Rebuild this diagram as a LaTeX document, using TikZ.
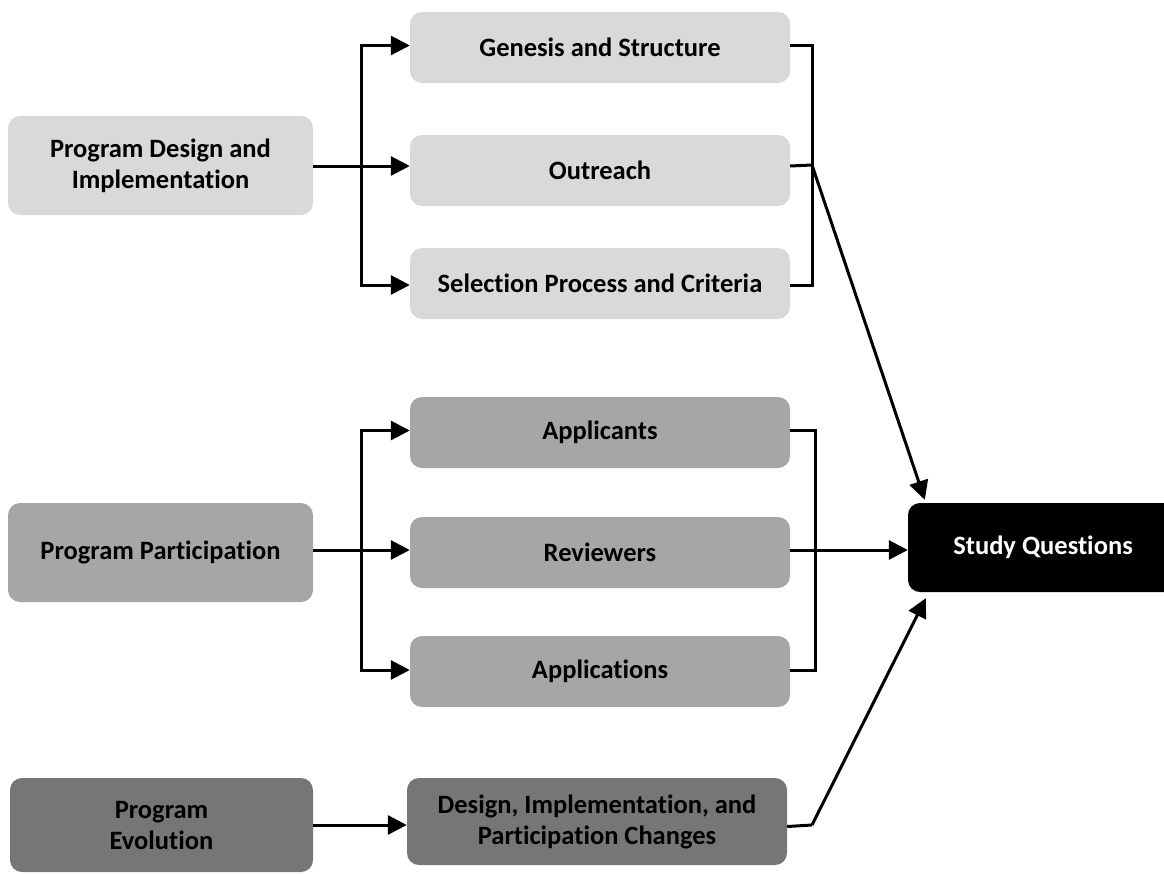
\documentclass[tikz,border=0pt]{standalone}
\usepackage{fontspec}
\setmainfont{Carlito}[Ligatures=CommonOff]
\usetikzlibrary{arrows.meta}
\definecolor{lightg}{HTML}{D9D9D9}
\definecolor{midg}{HTML}{A6A6A6}
\definecolor{darkg}{HTML}{767676}
\begin{document}
\begin{tikzpicture}[x=1pt,y=-1pt,
  box/.style={rounded corners=12pt, inner sep=0pt, align=center,
    font=\fontsize{26.5}{31}\selectfont\bfseries, text=black},
  lbox/.style={box, fill=lightg},
  mbox/.style={box, fill=midg},
  dbox/.style={box, fill=darkg},
  conn/.style={line width=3pt, draw=black},
  arr/.style={conn, -{Triangle[length=19pt,width=19pt]}},
]
\useasboundingbox (0,0) rectangle (1164,873);
% left column
\node[lbox, minimum width=305pt, minimum height=99pt] (pdi) at (160.5,165.5) {Program Design and\\Implementation};
\node[mbox, minimum width=305pt, minimum height=99pt] (pp) at (160.5,552.5) {Program Participation};
\node[dbox, minimum width=303pt, minimum height=94pt] (pe) at (161.5,825) {Program\\Evolution};
% middle column
\node[lbox, minimum width=380pt, minimum height=71pt] (gen) at (600,47.5) {Genesis and Structure};
\node[lbox, minimum width=380pt, minimum height=71pt] (out) at (600,170.5) {Outreach};
\node[lbox, minimum width=380pt, minimum height=71pt] (sel) at (600,283.5) {Selection Process and Criteria};
\node[mbox, minimum width=380pt, minimum height=71pt] (app) at (600,432.5) {Applicants};
\node[mbox, minimum width=380pt, minimum height=71pt] (rev) at (600,552.5) {Reviewers};
\node[mbox, minimum width=380pt, minimum height=71pt] (apl) at (600,671.5) {Applications};
\node[dbox, minimum width=380pt, minimum height=87pt] (des) at (597,821.5) {Design, Implementation, and\\Participation Changes};
% target
\node[box, fill=black, text=white, minimum width=270pt, minimum height=89pt] (sq) at (1043,547.5) {Study Questions};
% junctions
\coordinate (j1) at (361,166);
\coordinate (k1) at (812,165);
\coordinate (j2) at (361,550);
\coordinate (k2) at (815,550);
\coordinate (k3) at (812,825);
% group 1
\draw[conn] (pdi.east |- j1) -- (j1);
\draw[arr] (j1) |- ([yshift=2pt]gen.west);
\draw[arr] (j1) -- (j1 -| out.west);
\draw[arr] (j1) |- ([yshift=-1.5pt]sel.west);
\draw[conn] ([yshift=2pt]gen.east) -| (k1) |- ([yshift=-1.5pt]sel.east);
\draw[conn] ([yshift=4.5pt]out.east) -- (k1);
\draw[arr] (k1) -- ([xshift=17pt,yshift=3pt]sq.north west);
% group 2
\draw[conn] (pp.east |- j2) -- (j2);
\draw[arr] (j2) |- ([yshift=2pt]app.west);
\draw[arr] (j2) -- (j2 -| rev.west);
\draw[arr] (j2) |- ([yshift=1.5pt]apl.west);
\draw[conn] ([yshift=2pt]app.east) -| (k2) |- ([yshift=1.5pt]apl.east);
\draw[arr] (j2 -| rev.east) -- (j2 -| sq.west);
% group 3
\draw[arr] (pe.east) -- (pe.east -| des.west);
\draw[conn] ([yshift=-5pt]des.east) -- (k3);
\draw[arr] (k3) -- ([xshift=18pt,yshift=-6pt]sq.south west);
\end{tikzpicture}
\end{document}
